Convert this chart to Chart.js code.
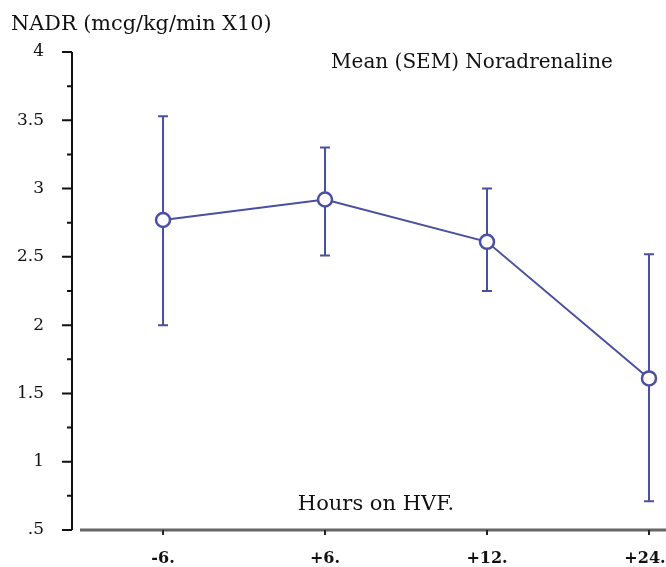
<!DOCTYPE html>
<html>
<head>
<meta charset="utf-8">
<script src="https://cdn.jsdelivr.net/npm/chart.js@4.4.1/dist/chart.umd.min.js"></script>
<style>
  html, body { margin: 0; padding: 0; background: #fff; }
  #wrap { width: 666px; height: 567px; }
</style>
</head>
<body>
<div id="wrap"><canvas id="chart"></canvas></div>
<script>
var hours = ['-6.', '+6.', '+12.', '+24.'];
var meanNadr = [2.77, 2.92, 2.61, 1.61];
var upperSem = [3.53, 3.30, 3.00, 2.52];
var lowerSem = [2.00, 2.51, 2.25, 0.71];
var yTicks = [0.5, 0.75, 1, 1.25, 1.5, 1.75, 2, 2.25, 2.5, 2.75, 3, 3.25, 3.5, 3.75, 4];

var blue = '#4a4f9f';
var serif = '"DejaVu Serif", "Liberation Serif", serif';

function yLabel(v) {
  if (v * 2 !== Math.round(v * 2)) return '';
  if (v === 0.5) return '.5';
  return String(v);
}

var errorBars = {
  id: 'errorBars',
  beforeDatasetsDraw: function (chart) {
    var ctx = chart.ctx;
    var x = chart.scales.x, y = chart.scales.y;
    ctx.save();
    ctx.strokeStyle = blue;
    ctx.lineWidth = 2;
    for (var i = 0; i < meanNadr.length; i++) {
      var px = x.getPixelForValue(i);
      var top = y.getPixelForValue(upperSem[i]);
      var bot = y.getPixelForValue(lowerSem[i]);
      ctx.beginPath();
      ctx.moveTo(px, top); ctx.lineTo(px, bot);
      ctx.moveTo(px - 5, top); ctx.lineTo(px + 5, top);
      ctx.moveTo(px - 5, bot); ctx.lineTo(px + 5, bot);
      ctx.stroke();
    }
    ctx.restore();
  }
};

var axesAndText = {
  id: 'axesAndText',
  afterDraw: function (chart) {
    var ctx = chart.ctx;
    var a = chart.chartArea;
    var x = chart.scales.x, y = chart.scales.y;
    ctx.save();
    // y axis
    ctx.strokeStyle = '#111';
    ctx.lineWidth = 2;
    ctx.beginPath();
    ctx.moveTo(a.left, a.top); ctx.lineTo(a.left, a.bottom);
    yTicks.forEach(function (v) {
      var py = y.getPixelForValue(v);
      var len = yLabel(v) === '' ? 5 : 10;
      ctx.moveTo(a.left - len, py); ctx.lineTo(a.left, py);
    });
    ctx.stroke();
    // x axis
    ctx.strokeStyle = '#666';
    ctx.lineWidth = 3;
    ctx.beginPath();
    ctx.moveTo(a.left + 8, a.bottom); ctx.lineTo(a.right, a.bottom);
    ctx.stroke();
    ctx.strokeStyle = '#222';
    ctx.lineWidth = 2;
    ctx.beginPath();
    for (var i = 0; i < hours.length; i++) {
      var px = x.getPixelForValue(i);
      ctx.moveTo(px, a.bottom); ctx.lineTo(px, a.bottom + 5);
    }
    ctx.stroke();
    // texts
    ctx.fillStyle = '#111';
    ctx.textBaseline = 'middle';
    ctx.textAlign = 'left';
    ctx.font = '20.8px ' + serif;
    ctx.fillText('NADR (mcg/kg/min X10)', 11, 25);
    ctx.textAlign = 'center';
    ctx.font = '20px ' + serif;
    ctx.fillText('Mean (SEM) Noradrenaline', 472, 63);
    ctx.font = '21px ' + serif;
    ctx.fillText('Hours on HVF.', 376, 505);
    ctx.restore();
  }
};

new Chart(document.getElementById('chart'), {
  type: 'line',
  data: {
    datasets: [{
      data: meanNadr.map(function (v, i) { return { x: i, y: v }; }),
      borderColor: blue,
      borderWidth: 2,
      backgroundColor: '#fff',
      pointRadius: 7,
      pointBorderWidth: 2.5,
      pointBorderColor: blue,
      pointBackgroundColor: '#fff',
      tension: 0,
      clip: false
    }]
  },
  options: {
    responsive: true,
    maintainAspectRatio: false,
    animation: false,
    layout: { autoPadding: false, padding: { top: 52, left: 0, right: 0, bottom: 0 } },
    plugins: { legend: { display: false }, tooltip: { enabled: false }, title: { display: false } },
    scales: {
      x: {
        type: 'linear',
        min: -0.562,
        max: 3.105,
        grid: { display: false, drawTicks: false },
        border: { display: false },
        afterBuildTicks: function (s) { s.ticks = hours.map(function (h, i) { return { value: i }; }); },
        afterFit: function (s) { s.height = 37; s.paddingLeft = 0; s.paddingRight = 0; },
        ticks: {
          padding: 19,
          color: '#111',
          font: { family: serif, size: 16, weight: 'bold' },
          // last label sits against the edge, nudge it left like the original
          callback: function (v) { return hours[v] + (v === hours.length - 1 ? '\u2002' : ''); }
        }
      },
      y: {
        min: 0.5,
        max: 4,
        grid: { display: false, drawTicks: false },
        border: { display: false },
        afterBuildTicks: function (s) { s.ticks = yTicks.map(function (v) { return { value: v }; }); },
        afterFit: function (s) { s.width = 72; s.paddingTop = 0; s.paddingBottom = 0; },
        ticks: {
          padding: 28,
          color: '#111',
          autoSkip: false,
          font: { family: serif, size: 17 },
          callback: function (v) { return yLabel(v); }
        }
      }
    }
  },
  plugins: [errorBars, axesAndText]
});
</script>
</body>
</html>
